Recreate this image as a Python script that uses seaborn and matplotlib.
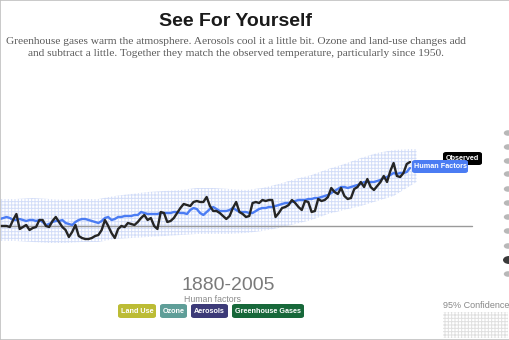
import numpy as np
import pandas as pd
import matplotlib
matplotlib.use("Agg")
import matplotlib.pyplot as plt
from matplotlib.patches import FancyBboxPatch, Rectangle, Circle
import seaborn as sns

# ---------------- data ----------------
years = list(range(1880, 2006))
observed = [
    0.00, 0.00, 0.00, -0.01, 0.06, 0.12, -0.03, -0.01, 0.01, -0.04,
    -0.02, -0.01, 0.06, 0.06, 0.00, -0.01, 0.05, 0.09, 0.04, -0.01,
    -0.04, -0.11, -0.06, 0.01, -0.10, -0.12, -0.13, -0.13, -0.12, -0.10,
    -0.09, -0.04, 0.06, 0.00, -0.07, -0.12, -0.03, 0.00, -0.01, 0.03,
    0.02, 0.01, 0.04, 0.08, 0.11, 0.06, 0.08, 0.00, -0.03, 0.14,
    0.13, 0.04, 0.05, 0.08, 0.13, 0.18, 0.22, 0.21, 0.20, 0.24,
    0.25, 0.24, 0.24, 0.29, 0.20, 0.15, 0.15, 0.13, 0.10, 0.07,
    0.10, 0.18, 0.24, 0.14, 0.12, 0.09, 0.10, 0.23, 0.24, 0.23,
    0.26, 0.25, 0.26, 0.26, 0.09, 0.13, 0.18, 0.19, 0.21, 0.26,
    0.23, 0.19, 0.16, 0.25, 0.24, 0.14, 0.15, 0.27, 0.25, 0.26,
    0.29, 0.38, 0.34, 0.32, 0.38, 0.30, 0.27, 0.28, 0.37, 0.39,
    0.44, 0.39, 0.47, 0.39, 0.36, 0.40, 0.44, 0.50, 0.44, 0.55,
    0.63, 0.50, 0.49, 0.53, 0.62, 0.64,
]
human = [
    0.07, 0.08, 0.09, 0.08, 0.06, 0.06, 0.07, 0.06, 0.05, 0.06,
    0.06, 0.05, 0.06, 0.04, 0.01, 0.02, 0.04, 0.05, 0.05, 0.06,
    0.03, 0.02, 0.01, 0.04, 0.06, 0.07, 0.07, 0.06, 0.05, 0.04,
    0.03, 0.05, 0.08, 0.09, 0.06, 0.07, 0.09, 0.09, 0.10, 0.10,
    0.10, 0.11, 0.11, 0.14, 0.13, 0.12, 0.12, 0.12, 0.12, 0.13,
    0.13, 0.13, 0.13, 0.14, 0.14, 0.13, 0.13, 0.12, 0.16, 0.18,
    0.17, 0.13, 0.11, 0.14, 0.17, 0.19, 0.17, 0.15, 0.15, 0.15,
    0.16, 0.18, 0.16, 0.14, 0.14, 0.14, 0.13, 0.13, 0.15, 0.17,
    0.18, 0.18, 0.19, 0.19, 0.20, 0.21, 0.22, 0.23, 0.23, 0.24,
    0.25, 0.26, 0.26, 0.26, 0.27, 0.27, 0.28, 0.28, 0.29, 0.30,
    0.31, 0.33, 0.35, 0.37, 0.39, 0.39, 0.38, 0.39, 0.40, 0.41,
    0.42, 0.44, 0.44, 0.44, 0.44, 0.45, 0.46, 0.48, 0.49, 0.51,
    0.53, 0.52, 0.53, 0.53, 0.54, 0.58,
]
band_years = list(range(1880, 2006, 5)) + [2007]
band_upper = [0.27, 0.27, 0.28, 0.27, 0.26, 0.27, 0.27, 0.30, 0.32, 0.34,
              0.35, 0.36, 0.38, 0.38, 0.37, 0.36, 0.38, 0.42, 0.47, 0.51,
              0.57, 0.62, 0.68, 0.73, 0.76, 0.77, 0.77]
band_lower = [-0.15, -0.15, -0.16, -0.17, -0.17, -0.16, -0.16, -0.13, -0.12, -0.11,
              -0.10, -0.09, -0.08, -0.08, -0.08, -0.07, -0.05, -0.02, 0.02, 0.06,
              0.12, 0.16, 0.20, 0.25, 0.30, 0.40, 0.44]
baseline_years = [1880, 2024]
baseline_vals = [0.0, 0.0]

legend_labels = ["Land Use", "Ozone", "Aerosols", "Greenhouse Gases"]
legend_colors = ["#bcbc35", "#5f9e98", "#3c3a78", "#17683a"]

df = pd.DataFrame({"year": years * 2,
                   "value": observed + human,
                   "series": ["Observed"] * len(years) + ["Human Factors"] * len(years)})

# ---------------- figure ----------------
sns.set_theme(style="white")
plt.rcParams["font.family"] = ["Liberation Sans", "DejaVu Sans"]

W, H = 510, 340
fig = plt.figure(figsize=(W / 100, H / 100), dpi=100)
ax = fig.add_axes([0, 0, 1, 1])
ax.set_xlim(1880, 1880 + W / 3.28)
ax.set_ylim((226 - H) / 100, 226 / 100)
ax.axis("off")

plt.rcParams["hatch.linewidth"] = 0.7
ax.fill_between(band_years, band_lower, band_upper, facecolor="none",
                edgecolor="#d3ddf8", hatch="+++++", linewidth=0, zorder=1)
ax.plot(baseline_years, baseline_vals, color="#9a9a9a", lw=1.0, zorder=2)

sns.lineplot(data=df, x="year", y="value", hue="series",
             palette={"Observed": "#252525", "Human Factors": "#4b7cf3"},
             hue_order=["Human Factors", "Observed"],
             linewidth=1.7, legend=False, ax=ax, zorder=3)

def px(x, y):
    return x / W, 1 - y / H

# title + subtitle
fig.text(*px(236, 22), "See For Yourself", ha="center", va="center",
         fontsize=14, fontweight="bold", color="#1a1a1a")
sub_kw = dict(ha="center", va="center", fontsize=8.2, color="#5a5a5a",
              family=["Liberation Serif", "DejaVu Serif"])
fig.text(*px(236, 41), "Greenhouse gases warm the atmosphere. Aerosols cool it a little bit. Ozone and land-use changes add", **sub_kw)
fig.text(*px(236, 53), "and subtract a little. Together they match the observed temperature, particularly since 1950.", **sub_kw)

# end labels
def badge(x0, y0, x1, y1, text, fc, fs=5.2):
    p = FancyBboxPatch((x0 / W, 1 - y1 / H), (x1 - x0) / W, (y1 - y0) / H,
                       boxstyle="round,pad=0,rounding_size=0.006",
                       transform=fig.transFigure, facecolor=fc, edgecolor="none",
                       zorder=5)
    fig.add_artist(p)
    fig.text(*px((x0 + x1) / 2, (y0 + y1) / 2 + 0.5), text, ha="center", va="center",
             fontsize=fs, fontweight="bold", color="white", zorder=6)

badge(443, 152, 482, 165, "Observed", "#000000")
badge(412, 160, 468, 173, "Human Factors", "#4b7cf3")

# bottom range text
fig.text(*px(228, 290), "1880-2005", ha="center", va="baseline", fontsize=14,
         color="#7a7a7a")
fig.text(*px(184, 295), "Human factors", ha="left", va="top", fontsize=6.3,
         color="#8a8a8a")
bx = [(118, 156), (160, 187), (191, 228), (232, 304)]
for (x0, x1), lab, col in zip(bx, legend_labels, legend_colors):
    badge(x0, 304, x1, 318, lab, col, fs=5.2)

# confidence key
fig.text(*px(476, 306), "95% Confidence", ha="center", va="center", fontsize=6.5,
         color="#888888")
key = Rectangle((443 / W, 1 - 338 / H), 65 / W, 26 / H, transform=fig.transFigure,
                facecolor="none", edgecolor="#e0e0e0", hatch="+++++", linewidth=0)
fig.add_artist(key)

# right-side navigation dots
for yy in [133, 147, 161, 174, 189, 203, 217, 231, 246, 274]:
    fig.add_artist(Circle((508 / W, 1 - yy / H), 4.2 / W, transform=fig.transFigure,
                          facecolor="#b8b8b8", edgecolor="none"))
fig.add_artist(Circle((509 / W, 1 - 260 / H), 6 / W, transform=fig.transFigure,
                      facecolor="#3a3a3a", edgecolor="none"))

# frame border
fig.add_artist(Rectangle((0, 0), 1, 1, transform=fig.transFigure, facecolor="none",
                         edgecolor="#c0c0c0", linewidth=1.2))

fig.savefig("out.png", dpi=100)
